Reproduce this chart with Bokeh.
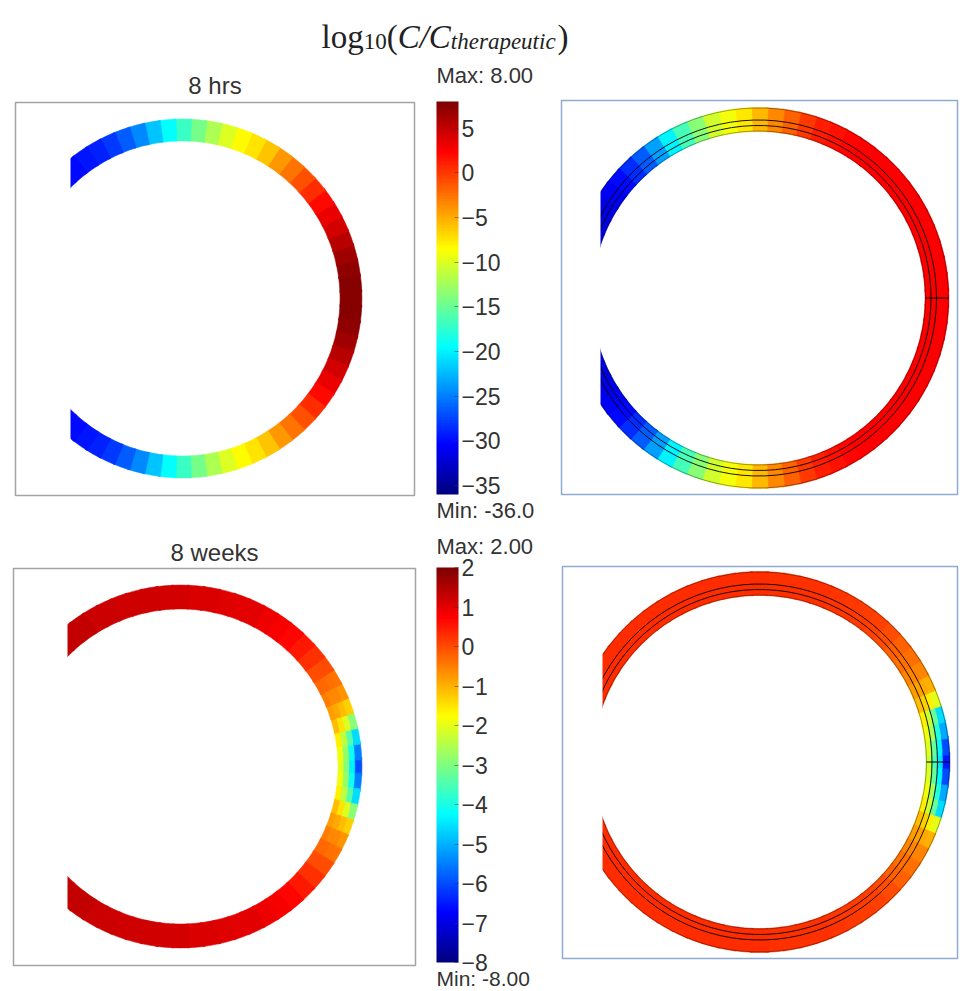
import numpy as np
from bokeh.plotting import figure
from bokeh.models import (Range1d, ColumnDataSource, LinearColorMapper, ColorBar, FixedTicker,
                          AllLabels)
from bokeh.transform import transform
from bokeh.core.properties import value
from bokeh.embed import file_html
from bokeh.resources import INLINE

# ---------------- data ----------------
TITLE_8H = "8 hrs"
TITLE_8W = "8 weeks"
RANGE_8H = (-36.0, 8.0)
RANGE_8W = (-8.0, 2.0)
TICKS_8H = [5, 0, -5, -10, -15, -20, -25, -30, -35]
TICKS_8W = [2, 1, 0, -1, -2, -3, -4, -5, -6, -7, -8]
MAX_8H, MIN_8H = "Max: 8.00", "Min: -36.0"
MAX_8W, MIN_8W = "Max: 2.00", "Min: -8.00"

# angle along the ring, degrees from the +x axis (field is symmetric top/bottom)
ANG_LEFT = [0, 5, 10, 15, 20, 25, 30, 35, 40, 45, 50, 55, 60, 65, 70, 75, 80, 85,
            90, 95, 100, 105, 110, 115, 120, 125, 130, 135, 140]
ANG_RIGHT = [0, 5, 10, 15, 20, 25, 30, 35, 40, 45, 50, 55, 60, 65, 70, 75, 80, 85,
             90, 95, 100, 105, 110, 115, 120, 125, 130, 135, 140, 145, 150, 155, 160, 165]

# 8 hrs, left panel
VAL_8H_LEFT = [7.5, 7.5, 7.2, 6.5, 5.5, 4.3, 3.2, 2.0, 0.5, -1.0, -2.5, -4.2, -6.0, -7.3,
               -8.5, -10.0, -12.0, -14.5, -17.0, -19.5, -22.0, -24.5, -26.5, -28.0,
               -29.0, -29.5, -30.0, -30.0, -30.0]
# 8 hrs, right panel
VAL_8H_RIGHT = [2.6, 2.6, 2.6, 2.6, 2.6, 2.6, 2.6, 2.5, 2.5, 2.5, 2.5, 2.4, 2.2, 1.8,
                1.2, 0.0, -1.7, -3.5, -5.5, -7.5, -9.0, -10.5, -13.5, -16.5, -20.0,
                -23.5, -26.5, -28.5, -30.0, -31.0, -31.5, -32.0, -32.0, -32.0]

# 8 weeks, left panel: four radial layers (inner -> outer) for angles 0..30, shared tail 35..140
W_LEFT_HEAD = [
    [-2.0, -1.9, -1.6, -1.1, -0.8, -0.5, -0.3],
    [-3.0, -2.8, -2.4, -1.5, -0.9, -0.6, -0.3],
    [-4.4, -4.1, -3.4, -2.1, -1.1, -0.6, -0.35],
    [-6.0, -5.5, -4.6, -2.9, -1.3, -0.7, -0.4],
]
W_LEFT_TAIL = [0.0, 0.25, 0.5, 0.7, 0.8, 0.9, 1.0, 1.0, 1.05, 1.1, 1.1, 1.15, 1.15, 1.2,
               1.2, 1.2, 1.25, 1.25, 1.3, 1.3, 1.3, 1.35]

# 8 weeks, right panel: four radial layers for angles 0..25, shared tail 30..165
W_RIGHT_HEAD = [
    [-2.2, -2.1, -1.9, -1.6, -1.1, -0.8],
    [-3.5, -3.2, -2.6, -2.2, -1.3, -0.85],
    [-4.5, -4.3, -3.9, -3.2, -1.6, -0.9],
    [-6.5, -6.0, -5.1, -4.6, -2.0, -1.0],
]
W_RIGHT_TAIL = [-0.55, -0.35, -0.2, 0.0, 0.1, 0.15, 0.2, 0.22, 0.25, 0.25, 0.27, 0.28,
                0.3, 0.3, 0.3, 0.3, 0.3, 0.3, 0.3, 0.3, 0.3, 0.3, 0.3, 0.3, 0.3, 0.3, 0.3, 0.3]

# ---------------- style / layout ----------------
W, H = 960, 991


def jet_palette(n=256):
    cols = []
    for t in np.linspace(0, 1, n):
        r = min(max(1.5 - abs(4 * t - 3), 0), 1)
        g = min(max(1.5 - abs(4 * t - 2), 0), 1)
        b = min(max(1.5 - abs(4 * t - 1), 0), 1)
        cols.append("#%02x%02x%02x" % (int(r * 255), int(g * 255), int(b * 255)))
    return cols


JET = jet_palette()
map_8h = LinearColorMapper(palette=JET, low=RANGE_8H[0], high=RANGE_8H[1])
map_8w = LinearColorMapper(palette=JET, low=RANGE_8W[0], high=RANGE_8W[1])

p = figure(width=W, height=H, x_range=Range1d(0, W), y_range=Range1d(0, H),
           output_backend="svg", toolbar_location=None, min_border=0,
           x_axis_type=None, y_axis_type=None)
p.grid.visible = False
p.outline_line_color = None
p.background_fill_color = "white"
p.border_fill_color = "white"

SANS = value("Liberation Sans")
SERIF = value("Liberation Serif")
TXT = "#333333"


def ring_source(cx, cy, radii, layers, angles, half=2.9):
    d = dict(x=[], y=[], ir=[], orad=[], sa=[], ea=[], v=[])
    for li, vals in enumerate(layers):
        r0, r1 = radii[li], radii[li + 1]
        for a, v in zip(angles, vals):
            for s in ([1] if a == 0 else [1, -1]):
                c = s * a
                d["x"].append(cx)
                d["y"].append(H - cy)
                d["ir"].append(r0 - 0.4)
                d["orad"].append(r1 + 0.4)
                d["sa"].append(np.radians(c - half))
                d["ea"].append(np.radians(c + half))
                d["v"].append(v)
    return ColumnDataSource(d)


def draw_ring(src, mapper):
    p.annular_wedge(x="x", y="y", inner_radius="ir", outer_radius="orad",
                    start_angle="sa", end_angle="ea", source=src,
                    fill_color=transform("v", mapper), line_color=transform("v", mapper),
                    line_width=0.6)


# panel geometry (pixels from top-left)
A = dict(cx=182, cy=298, radii=[158, 179], cut=70, box=(15, 414, 102, 495))
B = dict(cx=180, cy=766, radii=[158, 163.75, 169.5, 175.25, 181], cut=67, box=(13, 415, 568, 965))
C = dict(cx=758, cy=297.5, radii=[167, 190], lines=[167, 172.5, 178, 190], cut=600, box=(561, 957, 100, 494))
D = dict(cx=759, cy=761.5, radii=[167, 172.5, 178, 184, 190], lines=[167, 172.5, 178, 190], cut=602, box=(562, 957, 566, 958))

draw_ring(ring_source(A["cx"], A["cy"], A["radii"], [VAL_8H_LEFT], ANG_LEFT), map_8h)
draw_ring(ring_source(B["cx"], B["cy"], B["radii"], [h + W_LEFT_TAIL for h in W_LEFT_HEAD], ANG_LEFT), map_8w)
draw_ring(ring_source(C["cx"], C["cy"], C["radii"], [VAL_8H_RIGHT], ANG_RIGHT), map_8h)
draw_ring(ring_source(D["cx"], D["cy"], D["radii"], [h + W_RIGHT_TAIL for h in W_RIGHT_HEAD], ANG_RIGHT), map_8w)

# boundary lines of the right-hand (mesh) rings
for P in (C, D):
    rl = P["lines"]
    p.arc(x=[P["cx"]] * 2, y=[H - P["cy"]] * 2, radius=rl[1:3],
          start_angle=-np.radians(176), end_angle=np.radians(176),
          line_color="black", line_width=1.0, line_alpha=0.9)
    p.arc(x=[P["cx"]] * 2, y=[H - P["cy"]] * 2, radius=[rl[0], rl[3]],
          start_angle=-np.radians(176), end_angle=np.radians(176),
          line_color="black", line_width=0.8, line_alpha=0.45)
    p.segment(x0=[P["cx"] + rl[0]], y0=[H - P["cy"]], x1=[P["cx"] + rl[3]], y1=[H - P["cy"]],
              line_color="black", line_width=1.0)

# vertical cut of the open rings
for P in (A, B, C, D):
    rout = P["radii"][-1]
    p.quad(left=[P["cx"] - rout - 6], right=[P["cut"]],
           bottom=[H - P["cy"] - rout - 3], top=[H - P["cy"] + rout + 3],
           fill_color="white", line_color=None)

# panel frames
for P, col in ((A, "#a3a3a3"), (B, "#a3a3a3"), (C, "#8eaad2"), (D, "#8eaad2")):
    l, r, t, b = P["box"]
    p.quad(left=[l], right=[r], top=[H - t], bottom=[H - b], fill_color=None,
           line_color=col, line_width=1.5)

# colour bars
for mapper, ticks, loc, hgt in ((map_8h, TICKS_8H, (436, H - 494), 393),
                                (map_8w, TICKS_8W, (436, H - 962), 395)):
    cb = ColorBar(color_mapper=mapper, location=loc, width=22, height=hgt,
                  padding=0, margin=0, ticker=FixedTicker(ticks=ticks),
                  major_label_policy=AllLabels(),
                  major_label_text_font="Liberation Sans", major_label_text_font_size="23px",
                  major_label_text_color=TXT, label_standoff=3,
                  major_tick_line_color="#333333", major_tick_line_alpha=0.5,
                  major_tick_in=4, major_tick_out=0,
                  background_fill_alpha=0, border_line_color=None, bar_line_color=None)
    p.add_layout(cb)

# texts
p.text(x=[214.5, 214], y=[H - 85, H - 551.5], text=[TITLE_8H, TITLE_8W],
       text_align="center", text_baseline="middle", text_font=SANS,
       text_font_size="24px", text_color=TXT)
p.text(x=[436, 436, 436], y=[H - 75, H - 510, H - 546],
       text=[MAX_8H, MIN_8H, MAX_8W], text_align="left", text_baseline="middle",
       text_font=SANS, text_font_size="22px", text_color=TXT)
p.text(x=[436], y=[H - 978], text=[MIN_8W], text_align="left", text_baseline="middle",
       text_font=SANS, text_font_size="21px", text_color=TXT)

# main title  log10(C/C_therapeutic)
S, s = 33, 23
pieces = [("log", S, "normal", 0, 1.278), ("10", s, "normal", 5, 1.0),
          ("(", S, "normal", 0, 0.333), ("C/C", S, "italic", 0, 1.612),
          ("therapeutic", s, "italic", 5, 4.555), (")", S, "normal", 0, 0.333)]
x = 321.0
for txt, fs, style, dy, em in pieces:
    p.text(x=[x], y=[H - 36 - dy], text=[txt], text_align="left", text_baseline="alphabetic",
           text_font=SERIF, text_font_size=f"{fs}px", text_font_style=style, text_color="#222222")
    x += em * fs + (2 if txt == "therapeutic" else 0)

open("out.html", "w").write(file_html(p, INLINE))
